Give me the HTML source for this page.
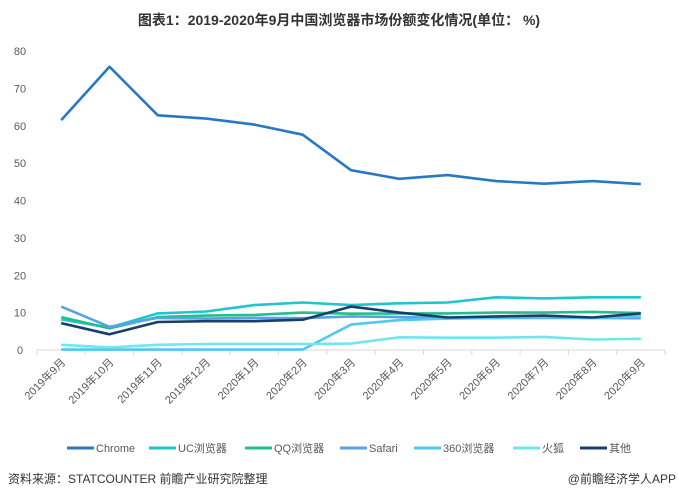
<!DOCTYPE html>
<html><head><meta charset="utf-8"><style>
body{margin:0;background:#fff;font-family:"Liberation Sans","Noto Sans CJK SC",sans-serif;}
#wrap{position:relative;width:679px;height:500px;overflow:hidden;}
</style></head><body>
<div id="wrap">
<svg id="chart" width="679" height="500"></svg>
</div>
<script>
const categories=["2019年9月","2019年10月","2019年11月","2019年12月","2020年1月","2020年2月","2020年3月","2020年4月","2020年5月","2020年6月","2020年7月","2020年8月","2020年9月"];
const yTicks=[0,10,20,30,40,50,60,70,80];
const seriesNames=["Chrome","UC浏览器","QQ浏览器","Safari","360浏览器","火狐","其他"];
const chrome=[61.5,75.8,62.8,61.9,60.3,57.6,48.1,45.8,46.8,45.2,44.5,45.2,44.4];
const uc=[8.2,6.0,9.8,10.3,12.0,12.7,12.0,12.5,12.7,14.1,13.8,14.1,14.1];
const qq=[8.8,5.8,8.8,9.2,9.4,10.0,9.7,9.8,9.8,10.0,10.0,10.2,9.9];
const safari=[11.6,6.2,8.6,8.4,8.6,8.5,9.0,8.8,8.6,8.6,8.6,8.6,8.5];
const s360=[0.1,0.1,0.1,0.1,0.1,0.1,6.8,8.0,8.4,8.6,8.8,8.6,9.0];
const firefox=[1.4,0.7,1.4,1.6,1.6,1.6,1.7,3.4,3.3,3.3,3.5,2.8,3.0];
const other=[7.2,4.2,7.5,7.7,7.7,8.1,11.6,10.0,8.7,9.0,9.2,8.7,9.8];
const colors=["#2a78c2","#1fc6cc","#22bf8c","#5aa2e4","#4fc8f0","#72e6ee","#1b3d6c"];
const series=[chrome,uc,qq,safari,s360,firefox,other];
const NS="http://www.w3.org/2000/svg";
const svg=document.getElementById('chart');
function mk(t,a,p){const e=document.createElementNS(NS,t);for(const k in a)e.setAttribute(k,a[k]);(p||svg).appendChild(e);return e;}
const x0=37,x1=665,y0=350,y80=51;
const step=(x1-x0)/categories.length;
const X=i=>x0+step*(i+0.5);
const Y=v=>y0-(v/80)*(y0-y80);
let t=mk('text',{x:339,y:25,'text-anchor':'middle','font-size':14,'font-weight':'bold',fill:'#333'});
t.textContent="图表1：2019-2020年9月中国浏览器市场份额变化情况(单位：  %)";

yTicks.forEach(v=>{const e=mk('text',{x:20,y:Y(v)+4,'text-anchor':'middle','font-size':11,fill:'#595959'});e.textContent=v;
});
const ax=mk('line',{x1:x0,x2:x1,y1:y0,y2:y0,stroke:'#d9d9d9','stroke-width':1});

for(let i=0;i<=categories.length;i++){const e=mk('line',{x1:x0+step*i,x2:x0+step*i,y1:y0,y2:y0+5,stroke:'#d9d9d9'});
}
categories.forEach((c,i)=>{const px=X(i)+5,py=y0+13;const e=mk('text',{x:px,y:py,'text-anchor':'end','font-size':11,fill:'#595959',transform:`rotate(-45 ${px} ${py})`});e.textContent=c;
});
series.forEach((s,k)=>{const d=s.map((v,i)=>(i?'L':'M')+X(i).toFixed(1)+','+Y(v).toFixed(1)).join(' ');
const p=mk('path',{d:d,fill:'none',stroke:colors[k],'stroke-width':2.6,'stroke-linejoin':'round'});
});
const lx=[67,149,245,340,414,513,580];
seriesNames.forEach((n,k)=>{const g=mk('g',{});
mk('line',{x1:lx[k],x2:lx[k]+27,y1:448,y2:448,stroke:colors[k],'stroke-width':3},g);
const e=mk('text',{x:lx[k]+29,y:452,'font-size':11,fill:'#595959'},g);e.textContent=n;});
t=mk('text',{x:8,y:483,'font-size':12,fill:'#333'});t.textContent="资料来源：STATCOUNTER 前瞻产业研究院整理";

t=mk('text',{x:676,y:483,'font-size':12,fill:'#333','text-anchor':'end'});t.textContent="@前瞻经济学人APP";

</script>
</body></html>
